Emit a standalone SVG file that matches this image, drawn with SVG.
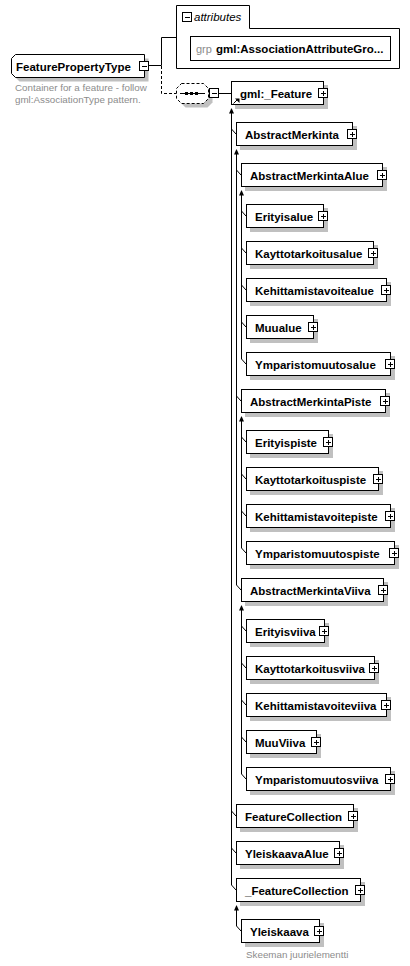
<svg xmlns="http://www.w3.org/2000/svg" xmlns:xlink="http://www.w3.org/1999/xlink" width="410" height="966" viewBox="0 0 410 966">
<defs>
<style>
.box{fill:#fff;stroke:#000;stroke-width:1}
.sh{fill:#c0c0c0}
.ln{fill:none;stroke:#000;stroke-width:1}
.dash{fill:none;stroke:#000;stroke-width:1;stroke-dasharray:3,2}
.cmp{fill:#fff;stroke:#000;stroke-width:1;stroke-dasharray:3,2}
.t{font-family:"Liberation Sans",Arial,sans-serif;font-weight:bold;font-size:11.5px;fill:#000}
.d{font-family:"Liberation Sans",Arial,sans-serif;font-size:9.8px;fill:#8c8c8c}
.it{font-family:"Liberation Sans",Arial,sans-serif;font-style:italic;font-size:11.5px;fill:#000}
.g{font-family:"Liberation Sans",Arial,sans-serif;font-size:11px;fill:#8c8c8c}
.ic{fill:#fff;stroke:#000;stroke-width:1}
.ah{fill:#000}
.cr{shape-rendering:crispEdges}
</style>
<g id="plus" class="cr"><rect class="ic" x="-4.5" y="7.5" width="9" height="9"/><path class="ln" d="M-2.5,12H2.5M0,9.5V14.5"/></g>
</defs>
<rect width="410" height="966" fill="#fff"/>

<g id="connectors">
<path class="ln" d="M149,65.5H161.5V37.5H176"/>
<path class="dash" d="M161.5,66V93.5H176"/>
<path class="ln" d="M218.5,93.5H231"/>
<path class="ln" d="M231.5,109V885L236,890M231.5,129L236,134M231.5,811L236,816M231.5,848L236,853"/>
<polygon class="ah" points="231.5,108 229,113.5 234,113.5"/>
<path class="ln" d="M236.5,150V585L241,590M236.5,170L241,175M236.5,396L241,401"/>
<polygon class="ah" points="236.5,149 234,154.5 239,154.5"/>
<path class="ln" d="M241.5,191V359L246,364M241.5,211L246,216M241.5,248L246,253M241.5,285L246,290M241.5,322L246,327"/>
<polygon class="ah" points="241.5,190 239,195.5 244,195.5"/>
<path class="ln" d="M241.5,417V548L246,553M241.5,437L246,442M241.5,474L246,479M241.5,511L246,516"/>
<polygon class="ah" points="241.5,416 239,421.5 244,421.5"/>
<path class="ln" d="M241.5,606V774L246,779M241.5,626L246,631M241.5,663L246,668M241.5,700L246,705M241.5,737L246,742"/>
<polygon class="ah" points="241.5,605 239,610.5 244,610.5"/>
<path class="ln" d="M236.5,906V926L241,931"/>
<polygon class="ah" points="236.5,905 234,910.5 239,910.5"/>
</g>

<g id="FeaturePropertyType">
<polygon class="sh" points="19.5,58.5 148.5,58.5 148.5,81.5 19.5,81.5 15.5,77.5 15.5,62.5"/>
<polygon class="box" points="15.5,54.5 144.5,54.5 144.5,77.5 15.5,77.5 11.5,73.5 11.5,58.5"/>
<text class="t" x="16" y="71">FeaturePropertyType</text>
<g class="cr"><rect class="ic" x="139.5" y="61.5" width="9" height="9"/>
<path class="ln" d="M141.5,66H146.5"/></g>
<text class="d" x="15" y="91">Container for a feature - follow</text>
<text class="d" x="15" y="103">gml:AssociationType pattern.</text>
</g>

<g id="attributes">
<path class="box" d="M176.5,68.5V5.5H249.5V28.5H399.5V68.5Z"/>
<g class="cr"><rect class="ic" x="182.5" y="12.5" width="9" height="9"/>
<path class="ln" d="M184.5,17H189.5"/></g>
<text class="it" x="194" y="21">attributes</text>
<rect class="box" x="190.5" y="36.5" width="200" height="24"/>
<text class="g" x="196" y="53">grp</text>
<text class="t" x="216" y="53">gml:AssociationAttributeGro...</text>
</g>

<g id="sequence">
<polygon class="sh" points="185.5,87.5 207.5,87.5 212.5,92.5 212.5,102.5 207.5,107.5 185.5,107.5 180.5,102.5 180.5,92.5"/>
<polygon class="cmp" points="181.5,83.5 203.5,83.5 208.5,88.5 208.5,98.5 203.5,103.5 181.5,103.5 176.5,98.5 176.5,88.5"/>
<path class="ln" d="M180,93.5H205"/>
<rect class="ah" x="185" y="92" width="3" height="3"/>
<rect class="ah" x="190" y="92" width="3" height="3"/>
<rect class="ah" x="195" y="92" width="3" height="3"/>
<g class="cr"><rect class="ic" x="209.5" y="88.5" width="9" height="9"/>
<path class="ln" d="M211.5,93H216.5"/></g>
</g>

<g id="gml_Feature">
<rect class="sh" x="235" y="85" width="93" height="24"/>
<rect class="box" x="231.5" y="81.5" width="92" height="23"/>
<path class="ln" d="M233.5,103.5L237,100"/>
<polygon class="ah" points="235,98.5 239.5,98.5 239.5,103"/>
<text class="t" x="240" y="98">gml:_Feature</text>
<use xlink:href="#plus" x="323" y="81"/>
</g>

<g id="AbstractMerkinta"><rect class="sh" x="240" y="126" width="117" height="24"/><rect class="box" x="236.5" y="122.5" width="116" height="23"/><text class="t" x="245" y="139">AbstractMerkinta</text><use xlink:href="#plus" x="352" y="122"/></g>
<g id="AbstractMerkintaAlue"><rect class="sh" x="245" y="167" width="142" height="24"/><rect class="box" x="241.5" y="163.5" width="141" height="23"/><text class="t" x="250" y="180">AbstractMerkintaAlue</text><use xlink:href="#plus" x="382" y="163"/></g>
<g id="Erityisalue"><rect class="sh" x="250" y="208" width="78" height="24"/><rect class="box" x="246.5" y="204.5" width="77" height="23"/><text class="t" x="255" y="221">Erityisalue</text><use xlink:href="#plus" x="323" y="204"/></g>
<g id="Kayttotarkoitusalue"><rect class="sh" x="250" y="245" width="128" height="24"/><rect class="box" x="246.5" y="241.5" width="127" height="23"/><text class="t" x="255" y="258">Kayttotarkoitusalue</text><use xlink:href="#plus" x="373" y="241"/></g>
<g id="Kehittamistavoitealue"><rect class="sh" x="250" y="282" width="141" height="24"/><rect class="box" x="246.5" y="278.5" width="140" height="23"/><text class="t" x="255" y="295">Kehittamistavoitealue</text><use xlink:href="#plus" x="386" y="278"/></g>
<g id="Muualue"><rect class="sh" x="250" y="319" width="68" height="24"/><rect class="box" x="246.5" y="315.5" width="67" height="23"/><text class="t" x="255" y="332">Muualue</text><use xlink:href="#plus" x="313" y="315"/></g>
<g id="Ymparistomuutosalue"><rect class="sh" x="250" y="356" width="145" height="24"/><rect class="box" x="246.5" y="352.5" width="144" height="23"/><text class="t" x="255" y="369">Ymparistomuutosalue</text><use xlink:href="#plus" x="390" y="352"/></g>
<g id="AbstractMerkintaPiste"><rect class="sh" x="245" y="393" width="145" height="24"/><rect class="box" x="241.5" y="389.5" width="144" height="23"/><text class="t" x="250" y="406">AbstractMerkintaPiste</text><use xlink:href="#plus" x="385" y="389"/></g>
<g id="Erityispiste"><rect class="sh" x="250" y="434" width="83" height="24"/><rect class="box" x="246.5" y="430.5" width="82" height="23"/><text class="t" x="255" y="447">Erityispiste</text><use xlink:href="#plus" x="328" y="430"/></g>
<g id="Kayttotarkoituspiste"><rect class="sh" x="250" y="471" width="133" height="24"/><rect class="box" x="246.5" y="467.5" width="132" height="23"/><text class="t" x="255" y="484">Kayttotarkoituspiste</text><use xlink:href="#plus" x="378" y="467"/></g>
<g id="Kehittamistavoitepiste"><rect class="sh" x="250" y="508" width="145" height="24"/><rect class="box" x="246.5" y="504.5" width="144" height="23"/><text class="t" x="255" y="521">Kehittamistavoitepiste</text><use xlink:href="#plus" x="390" y="504"/></g>
<g id="Ymparistomuutospiste"><rect class="sh" x="250" y="545" width="149" height="24"/><rect class="box" x="246.5" y="541.5" width="148" height="23"/><text class="t" x="255" y="558">Ymparistomuutospiste</text><use xlink:href="#plus" x="394" y="541"/></g>
<g id="AbstractMerkintaViiva"><rect class="sh" x="245" y="582" width="143" height="24"/><rect class="box" x="241.5" y="578.5" width="142" height="23"/><text class="t" x="250" y="595">AbstractMerkintaViiva</text><use xlink:href="#plus" x="383" y="578"/></g>
<g id="Erityisviiva"><rect class="sh" x="250" y="623" width="79" height="24"/><rect class="box" x="246.5" y="619.5" width="78" height="23"/><text class="t" x="255" y="636">Erityisviiva</text><use xlink:href="#plus" x="324" y="619"/></g>
<g id="Kayttotarkoitusviiva"><rect class="sh" x="250" y="660" width="129" height="24"/><rect class="box" x="246.5" y="656.5" width="128" height="23"/><text class="t" x="255" y="673">Kayttotarkoitusviiva</text><use xlink:href="#plus" x="374" y="656"/></g>
<g id="Kehittamistavoiteviiva"><rect class="sh" x="250" y="697" width="141" height="24"/><rect class="box" x="246.5" y="693.5" width="140" height="23"/><text class="t" x="255" y="710">Kehittamistavoiteviiva</text><use xlink:href="#plus" x="386" y="693"/></g>
<g id="MuuViiva"><rect class="sh" x="250" y="734" width="71" height="24"/><rect class="box" x="246.5" y="730.5" width="70" height="23"/><text class="t" x="255" y="747">MuuViiva</text><use xlink:href="#plus" x="316" y="730"/></g>
<g id="Ymparistomuutosviiva"><rect class="sh" x="250" y="771" width="145" height="24"/><rect class="box" x="246.5" y="767.5" width="144" height="23"/><text class="t" x="255" y="784">Ymparistomuutosviiva</text><use xlink:href="#plus" x="390" y="767"/></g>
<g id="FeatureCollection"><rect class="sh" x="240" y="808" width="118" height="24"/><rect class="box" x="236.5" y="804.5" width="117" height="23"/><text class="t" x="245" y="821">FeatureCollection</text><use xlink:href="#plus" x="353" y="804"/></g>
<g id="YleiskaavaAlue"><rect class="sh" x="240" y="845" width="104" height="24"/><rect class="box" x="236.5" y="841.5" width="103" height="23"/><text class="t" x="245" y="858">YleiskaavaAlue</text><use xlink:href="#plus" x="339" y="841"/></g>
<g id="_FeatureCollection"><rect class="sh" x="240" y="882" width="125" height="24"/><rect class="box" x="236.5" y="878.5" width="124" height="23"/><text class="t" x="245" y="895">_FeatureCollection</text><use xlink:href="#plus" x="360" y="878"/></g>
<g id="Yleiskaava"><rect class="sh" x="245" y="923" width="79" height="24"/><rect class="box" x="241.5" y="919.5" width="78" height="23"/><text class="t" x="250" y="936">Yleiskaava</text><use xlink:href="#plus" x="319" y="919"/><text class="d" x="246" y="958">Skeeman juurielementti</text></g>
</svg>
